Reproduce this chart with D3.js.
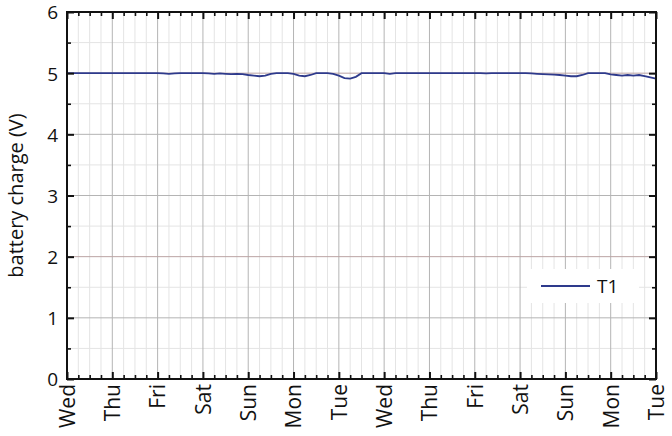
<!DOCTYPE html>
<html><head><meta charset="utf-8">
<script src="https://cdn.jsdelivr.net/npm/d3@7"></script>
<style>body{margin:0;background:#fff}svg{display:block}text{font-family:"Open Sans","Noto Sans",sans-serif;fill:#111}</style>
</head><body><svg id="c" width="672" height="436"></svg>
<script>
const startDate = "2014-01-01T00:00:00"; // a Wednesday
const stepHours = 3;
const seriesName = "T1";
// battery charge (V), one value every 3 hours
const values = [
 // Wed
 5.00,5.00,5.00,5.00,5.00,5.00,5.00,5.00,
 // Thu
 5.00,5.00,5.00,5.00,5.00,5.00,5.00,5.00,
 // Fri
 5.00,4.995,4.99,4.995,5.00,5.00,5.00,5.00,
 // Sat
 5.00,4.995,4.99,4.995,4.99,4.985,4.99,4.985,
 // Sun
 4.97,4.96,4.95,4.96,4.99,5.00,5.00,5.00,
 // Mon
 4.99,4.96,4.95,4.97,5.00,5.00,5.00,4.99,
 // Tue
 4.96,4.92,4.91,4.94,5.00,5.00,5.00,5.00,
 // Wed
 5.00,4.99,5.00,5.00,5.00,5.00,5.00,5.00,
 // Thu
 5.00,5.00,5.00,5.00,5.00,5.00,5.00,5.00,
 // Fri
 5.00,5.00,4.995,5.00,5.00,5.00,5.00,5.00,
 // Sat
 5.00,5.00,4.995,4.99,4.985,4.98,4.975,4.97,
 // Sun
 4.96,4.95,4.95,4.97,5.00,5.00,5.00,5.00,
 // Mon
 4.98,4.97,4.96,4.97,4.96,4.97,4.95,4.93,
 // Tue
 4.91
];
const yTicks = [0,1,2,3,4,5,6];
const yMinorTicks = [0.5,1.5,2.5,3.5,4.5,5.5];

const svg = d3.select("#c");
const m = {l:67, r:16, t:12, b:57};
const W = 672, H = 436;
const t0 = new Date(startDate);
const data = values.map((v,i)=>({t:d3.timeHour.offset(t0,i*stepHours), v}));
const t1 = data[data.length-1].t;
const x = d3.scaleTime().domain([t0,t1]).range([m.l, W-m.r]);
const y = d3.scaleLinear().domain([0,6]).range([H-m.b, m.t]);

const days = d3.timeDay.range(t0, d3.timeHour.offset(t1,1));
const quarter = d3.timeHour.every(6).range(t0, d3.timeHour.offset(t1,1)).filter(d=>d.getHours()!==0);

const g = svg.append("g");
// minor grid
g.selectAll(".vmin").data(quarter).join("line")
 .attr("x1",d=>x(d)).attr("x2",d=>x(d)).attr("y1",y(0)).attr("y2",y(6))
 .attr("stroke","#e4e4e4").attr("stroke-width",1);
g.selectAll(".hmin").data(yMinorTicks).join("line")
 .attr("x1",m.l).attr("x2",W-m.r).attr("y1",d=>y(d)).attr("y2",d=>y(d))
 .attr("stroke","#e4e4e4").attr("stroke-width",1);
// major grid
g.selectAll(".vmaj").data(days).join("line")
 .attr("x1",d=>x(d)).attr("x2",d=>x(d)).attr("y1",y(0)).attr("y2",y(6))
 .attr("stroke","#b4b4b4").attr("stroke-width",1);
g.selectAll(".hmaj").data(yTicks).join("line")
 .attr("x1",m.l).attr("x2",W-m.r).attr("y1",d=>y(d)).attr("y2",d=>y(d))
 .attr("stroke",d=>d===2||d===5?"#bba3a3":"#b4b4b4").attr("stroke-width",1);

// data line
const line = d3.line().x(d=>x(d.t)).y(d=>y(d.v));
svg.append("path").datum(data).attr("d",line)
 .attr("fill","none").attr("stroke","#2e3a8c").attr("stroke-width",1.8);

// legend
svg.append("rect").attr("x",527).attr("y",269).attr("width",112).attr("height",34).attr("fill","#fff");
svg.append("line").attr("x1",541).attr("x2",590).attr("y1",286).attr("y2",286)
 .attr("stroke","#2e3a8c").attr("stroke-width",1.8);
svg.append("text").attr("x",597).attr("y",293).attr("font-size",19).text(seriesName);

// axes (ticks inside)
const fmt = d3.timeFormat("%a");
const ax = svg.append("g");
ax.append("g").attr("transform",`translate(0,${y(0)})`)
 .call(d3.axisBottom(x).tickValues(days).tickFormat(fmt).tickSize(-7))
 .call(s=>{s.select(".domain").remove();
   s.selectAll(".tick line").attr("stroke","#111").attr("stroke-width",2);
   s.selectAll("text").attr("font-size",21)
    .attr("text-anchor","end").attr("dx",0).attr("dy","0.35em").attr("x",0).attr("y",0)
    .attr("transform","translate(0,5) rotate(-90)");});
ax.append("g").attr("transform",`translate(0,${y(0)})`)
 .call(d3.axisBottom(x).tickValues(quarter).tickFormat("").tickSize(-4))
 .call(s=>{s.select(".domain").remove();s.selectAll(".tick line").attr("stroke","#111").attr("stroke-width",1.6);});
ax.append("g").attr("transform",`translate(0,${y(6)})`)
 .call(d3.axisTop(x).tickValues(days).tickFormat("").tickSize(-7))
 .call(s=>{s.select(".domain").remove();s.selectAll(".tick line").attr("stroke","#111").attr("stroke-width",2);});
ax.append("g").attr("transform",`translate(0,${y(6)})`)
 .call(d3.axisTop(x).tickValues(quarter).tickFormat("").tickSize(-4))
 .call(s=>{s.select(".domain").remove();s.selectAll(".tick line").attr("stroke","#111").attr("stroke-width",1.6);});
ax.append("g").attr("transform",`translate(${m.l},0)`)
 .call(d3.axisLeft(y).tickValues(yTicks).tickFormat(d3.format("d")).tickSize(-7).tickPadding(9))
 .call(s=>{s.select(".domain").remove();
   s.selectAll(".tick line").attr("stroke","#111").attr("stroke-width",2);
   s.selectAll("text").attr("font-size",19).attr("dy","0.36em");});
ax.append("g").attr("transform",`translate(${m.l},0)`)
 .call(d3.axisLeft(y).tickValues(yMinorTicks).tickFormat("").tickSize(-4))
 .call(s=>{s.select(".domain").remove();s.selectAll(".tick line").attr("stroke","#111").attr("stroke-width",1.6);});
ax.append("g").attr("transform",`translate(${W-m.r},0)`)
 .call(d3.axisRight(y).tickValues(yTicks).tickFormat("").tickSize(-7))
 .call(s=>{s.select(".domain").remove();s.selectAll(".tick line").attr("stroke","#111").attr("stroke-width",2);});
ax.append("g").attr("transform",`translate(${W-m.r},0)`)
 .call(d3.axisRight(y).tickValues(yMinorTicks).tickFormat("").tickSize(-4))
 .call(s=>{s.select(".domain").remove();s.selectAll(".tick line").attr("stroke","#111").attr("stroke-width",1.6);});

// frame
svg.append("rect").attr("x",m.l).attr("y",m.t).attr("width",W-m.r-m.l).attr("height",H-m.b-m.t)
 .attr("fill","none").attr("stroke","#111").attr("stroke-width",2);

// y label
svg.append("text").attr("transform",`translate(23,${(y(0)+y(6))/2}) rotate(-90)`)
 .attr("text-anchor","middle").attr("font-size",20).text("battery charge (V)");
</script></body></html>
